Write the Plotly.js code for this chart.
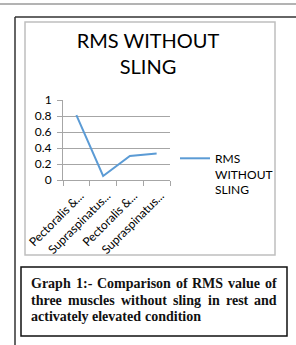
<!DOCTYPE html>
<html><head><meta charset="utf-8">
<script src="https://cdn.plot.ly/plotly-3.0.1.min.js"></script>
<style>html,body{margin:0;padding:0;background:#fff;}#c{width:296px;height:345px;}</style>
</head><body><div id="c"></div>
<script>
const categories = [0, 1, 2, 3];
const tickLabels = ["Pectoralis &...", "Supraspinatus...", "Pectoralis &...", "Supraspinatus..."];
const rmsWithoutSling = [0.81, 0.05, 0.30, 0.33];
const seriesName = "RMS<br>WITHOUT<br>SLING";
const chartTitle = "RMS WITHOUT<br>SLING";
const captionLines = [
  "Graph 1:- Comparison of RMS value of",
  "three muscles without sling in rest and",
  "activately elevated condition"
];
const captionJustify = [true, true, false];

const W = 296, H = 345;
const px = x => x / W;
const py = y => 1 - y / H;

// caption: justified like the source document
const capFamily = "Liberation Serif", capSize = 14;
const captionFont = {family: capFamily, size: capSize, color: "#111", weight: 700};
const captionY = [283, 300, 316];
const capLeft = 31, capRight = 277;
const ctx = document.createElement("canvas").getContext("2d");
ctx.font = "bold " + capSize + "px '" + capFamily + "'";
const annotations = [];
captionLines.forEach((line, i) => {
  const words = line.split(" ");
  const widths = words.map(w => ctx.measureText(w).width);
  const total = widths.reduce((a, b) => a + b, 0);
  const gap = captionJustify[i] ? (capRight - capLeft - total) / (words.length - 1)
                                : ctx.measureText(" ").width;
  let x = capLeft;
  words.forEach((w, k) => {
    annotations.push({text: w, xref: "paper", yref: "paper", x: px(x), y: py(captionY[i]),
      xanchor: "left", yanchor: "middle", showarrow: false, font: captionFont,
      borderpad: 0, borderwidth: 0});
    x += widths[k] + gap;
  });
});

const trace = {
  x: categories, y: rmsWithoutSling, type: "scatter", mode: "lines",
  name: seriesName, line: {color: "#5B9BD5", width: 2}
};

const layout = {
  width: W, height: H, margin: {l: 0, r: 0, t: 0, b: 0},
  paper_bgcolor: "#fff", plot_bgcolor: "rgba(0,0,0,0)",
  font: {family: "Lato", color: "#404040"},
  title: {text: chartTitle, x: 0.5, xref: "paper", xanchor: "center",
          y: py(48), yref: "paper", yanchor: "middle",
          font: {family: "Lato", size: 20, color: "#000"}},
  showlegend: true,
  legend: {x: px(175), y: py(144), xanchor: "left", yanchor: "top",
           valign: "top", font: {family: "Lato", size: 12, color: "#000"},
           bgcolor: "rgba(0,0,0,0)"},
  xaxis: {domain: [px(63), px(170)], type: "category",
          tickmode: "array", tickvals: categories, ticktext: tickLabels,
          tickson: "boundaries", ticks: "outside", ticklen: 5, tickcolor: "#a6a6a6",
          showgrid: false, showline: true, linecolor: "#a6a6a6", linewidth: 1,
          tickangle: -45, ticklabelshift: 4, ticklabelstandoff: 3,
          tickfont: {family: "Lato", size: 12, color: "#000"},
          range: [-0.5, 3.5], fixedrange: true, zeroline: false},
  yaxis: {domain: [py(180), py(100)], range: [0, 1], dtick: 0.2,
          ticks: "outside", ticklen: 5, tickcolor: "#a6a6a6",
          showgrid: true, gridcolor: "#a6a6a6", gridwidth: 1,
          showline: true, linecolor: "#a6a6a6", zeroline: false,
          ticklabelstandoff: 3,
          tickfont: {family: "Lato", size: 12, color: "#000"}, fixedrange: true},
  shapes: [
    {type: "line", xref: "paper", yref: "paper", x0: 0, x1: 1, y0: py(4), y1: py(4),
     line: {color: "#9a9a9a", width: 1.5}},
    {type: "line", xref: "paper", yref: "paper", x0: px(15), x1: 1, y0: py(17), y1: py(17),
     line: {color: "#333", width: 1.5}},
    {type: "line", xref: "paper", yref: "paper", x0: px(15), x1: px(15), y0: py(17), y1: 0,
     line: {color: "#333", width: 1.5}},
    {type: "rect", xref: "paper", yref: "paper", x0: px(25), x1: px(275), y0: py(22), y1: py(255),
     line: {color: "#bfbfbf", width: 1.5}},
    {type: "rect", xref: "paper", yref: "paper", x0: px(21), x1: px(287), y0: py(267), y1: py(336),
     line: {color: "#111", width: 1.5}}
  ],
  annotations: annotations
};

Plotly.newPlot("c", [trace], layout, {displayModeBar: false, staticPlot: true});
</script></body></html>
